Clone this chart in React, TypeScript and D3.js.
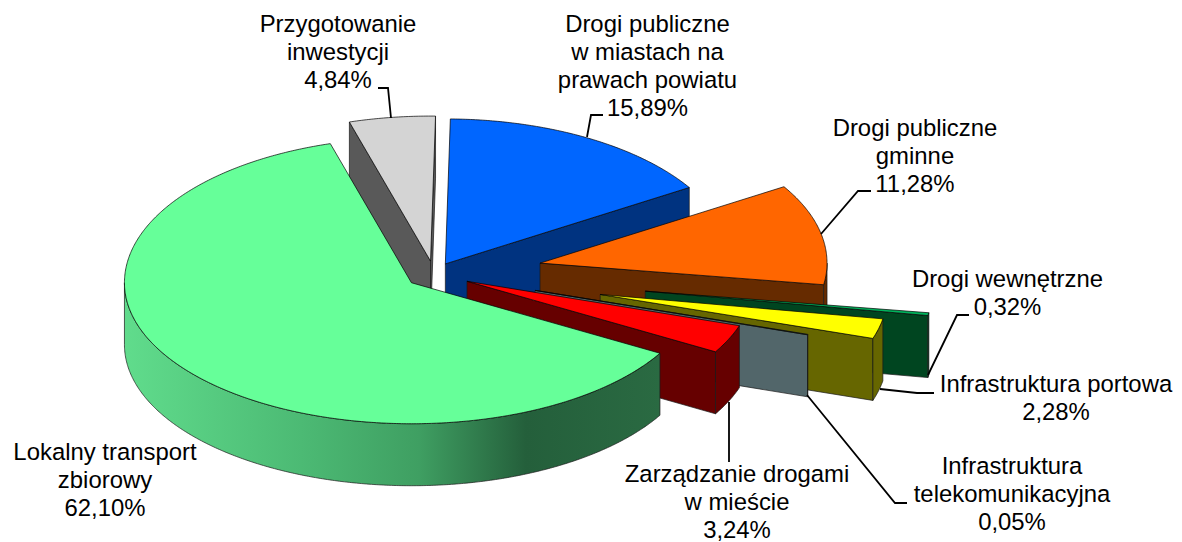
import React from "react";
import * as d3 from "d3";

// ---- data ----
const categories = [
  "Drogi publiczne w miastach na prawach powiatu",
  "Drogi publiczne gminne",
  "Drogi wewnętrzne",
  "Infrastruktura portowa",
  "Infrastruktura telekomunikacyjna",
  "Zarządzanie drogami w mieście",
  "Lokalny transport zbiorowy",
  "Przygotowanie inwestycji",
];
const shares = [15.89, 11.28, 0.32, 2.28, 0.05, 3.24, 62.1, 4.84];
const labelLines = [
  ["Drogi publiczne", "w miastach na", "prawach powiatu", "15,89%"],
  ["Drogi publiczne", "gminne", "11,28%"],
  ["Drogi wewnętrzne", "0,32%"],
  ["Infrastruktura portowa", "2,28%"],
  ["Infrastruktura", "telekomunikacyjna", "0,05%"],
  ["Zarządzanie drogami", "w mieście", "3,24%"],
  ["Lokalny transport", "zbiorowy", "62,10%"],
  ["Przygotowanie", "inwestycji", "4,84%"],
];

// ---- layout and style, by slice ----
const explode = [0.08, 0.377, 0.746, 0.597, 0.371, 0.126, 0.1, 0.09];
const topColors = ["#0066ff", "#ff6600", "#00b35c", "#ffff00", "#7f9a9e", "#ff0000", "#66ff99", "#d4d4d4"];
const wallColors = ["#003380", "#662b00", "#004520", "#666600", "#52666a", "#660000", "url(#greenWall)", "#595959"];
const labelX = [647.5, 915, 1007.5, 1056, 1012, 737, 105, 338];
const labelY = [32, 136, 287, 392, 474, 482, 460, 32];
const leaders: [number, number][][] = [
  [[587, 137], [591, 115], [603, 115]],
  [[821, 234], [858, 191], [871, 191]],
  [[928, 375], [957, 315], [969, 315]],
  [[880, 389], [917, 393], [934, 393]],
  [[807, 395], [895, 503], [907, 503]],
  [[729, 402], [729, 462]],
  [],
  [[391, 118], [388, 88], [378, 88]],
];
const gradientStops: [number, string][] = [
  [0, "#60dc8c"],
  [0.33, "#4cba74"],
  [0.55, "#3f9f62"],
  [0.75, "#245f3b"],
  [1, "#2a6a42"],
];

const W = 1182;
const H = 542;
const CX = 434;
const CY = 274;
const RX = 287;
const RY_FAR = 145;
const RY_NEAR = 141;
const DEPTH = 62;
const ROTATE = (1 * Math.PI) / 180;
const FONT = 23.9;
const LINE = 28;

const project = (a: number, r = 1): [number, number] => {
  const u = Math.sin(a);
  const v = Math.cos(a);
  return [RX * r * u, -(v > 0 ? RY_FAR : RY_NEAR) * r * v];
};

const line = d3.line<[number, number]>();

export default function App() {
  const arcs = d3
    .pie<number>()
    .sort(null)
    .startAngle(ROTATE)
    .endAngle(ROTATE + 2 * Math.PI)(shares);

  const slices = arcs.map((arc) => {
    const i = arc.index;
    const a0 = arc.startAngle;
    const a1 = arc.endAngle;
    const mid = (a0 + a1) / 2;
    const [ex, ey] = project(mid, explode[i]);
    const ax = CX + ex;
    const ay = CY + ey;
    const rim = (a: number): [number, number] => {
      const [x, y] = project(a);
      return [ax + x, ay + y];
    };
    const down = (p: [number, number]): [number, number] => [p[0], p[1] + DEPTH];
    const apex: [number, number] = [ax, ay];

    const step = Math.PI / 360;
    const sample = (s: number, e: number) => {
      const out = d3.range(s, e, step);
      out.push(e);
      return out;
    };

    const topPts: [number, number][] = [apex, ...sample(a0, a1).map(rim)];
    const wallSeg = (p: [number, number], q: [number, number]) => [p, q, down(q), down(p)] as [number, number][];

    const walls: [number, number][][] = [];
    if (Math.sin(a0) < 0) walls.push(wallSeg(apex, rim(a0)));
    if (Math.sin(a1) > 0) walls.push(wallSeg(apex, rim(a1)));
    const s = Math.max(a0, Math.PI / 2);
    const e = Math.min(a1, (3 * Math.PI) / 2);
    if (e > s) {
      const edge = sample(s, e).map(rim);
      walls.push([...edge, ...edge.slice().reverse().map(down)]);
    }
    return { i, topPts, walls, rimStart: rim(a0) };
  });

  const wallX0 = d3.min(slices[6].topPts, (p) => p[0])!;
  const wallX1 = slices[6].rimStart[0];
  const order = [7, 0, 1, 2, 3, 4, 5, 6];

  return (
    <svg
      width={W}
      height={H}
      viewBox={`0 0 ${W} ${H}`}
      style={{ position: "absolute", left: 0, top: 0, display: "block", background: "#fff" }}
    >
      <defs>
        <linearGradient id="greenWall" gradientUnits="userSpaceOnUse" x1={wallX0} x2={wallX1} y1={0} y2={0}>
          {gradientStops.map(([o, c]) => (
            <stop key={o} offset={o} stopColor={c} />
          ))}
        </linearGradient>
      </defs>
      {order.map((i) => {
        const sl = slices[i];
        return (
          <g key={categories[i]}>
            {sl.walls.map((w, j) => (
              <path key={j} d={line(w)! + "Z"} fill={wallColors[i]} stroke="#1a1a1a" strokeWidth={0.7} strokeLinejoin="round" />
            ))}
            <path d={line(sl.topPts)! + "Z"} fill={topColors[i]} stroke="#000" strokeWidth={0.7} strokeLinejoin="round" />
          </g>
        );
      })}
      {leaders.map((pts, i) =>
        pts.length ? <path key={i} d={line(pts)!} fill="none" stroke="#000" strokeWidth={1.8} /> : null
      )}
      {labelLines.map((lines, i) => (
        <text
          key={i}
          textAnchor="middle"
          fontFamily="'Liberation Sans', Arial, sans-serif"
          fontSize={FONT}
          fill="#000"
        >
          {lines.map((t, j) => (
            <tspan key={j} x={labelX[i]} y={labelY[i] + j * LINE}>
              {t}
            </tspan>
          ))}
        </text>
      ))}
    </svg>
  );
}
